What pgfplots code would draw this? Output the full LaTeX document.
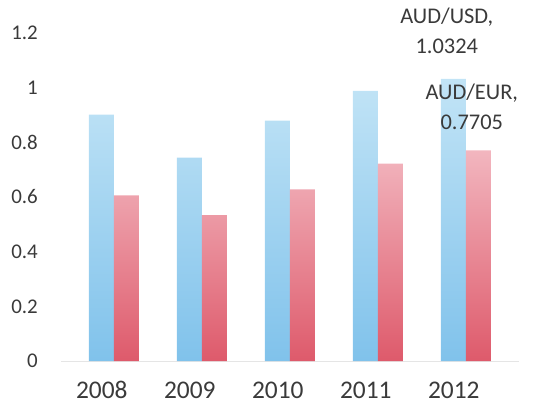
\documentclass[border=0pt]{standalone}
\usepackage{fontspec}
\setmainfont{Carlito}
\usepackage{pgfplots}
\pgfplotsset{compat=1.18}
\definecolor{bluetop}{HTML}{C2E4F6}
\definecolor{bluebot}{HTML}{80C2EB}
\definecolor{redtop}{HTML}{F2B6BF}
\definecolor{redbot}{HTML}{DE5A6B}
\definecolor{txt}{HTML}{3A3A3A}
\begin{document}
\begin{tikzpicture}
\path[use as bounding box] (-61bp,-42bp) rectangle (472bp,361bp);
\begin{axis}[
  at={(0,0)}, anchor=south west,
  scale only axis, width=457.6bp, height=328bp,
  xmin=-0.6, xmax=4.6, ymin=0, ymax=1.2,
  clip=false,
  xtick={0,1,2,3,4},
  xticklabels={2008,2009,2010,2011,2012},
  ytick={0,0.2,0.4,0.6,0.8,1,1.2},
  /pgf/number format/assume math mode=true,
  axis x line*=bottom, axis y line*=left,
  x axis line style={draw=black!10},
  y axis line style={draw=none},
  tick style={draw=none},
  major tick length=0pt,
  xticklabel style={font=\fontsize{25.5}{25.5}\selectfont, text=txt, anchor=base, yshift=-37bp, xshift=-12bp},
  yticklabel style={font=\fontsize{21}{21}\selectfont, text=txt, anchor=east, inner sep=0pt, xshift=-23bp},
]
\addplot[ybar, bar width=25bp, bar shift=-12.5bp, draw=none, top color=bluetop, bottom color=bluebot]
  coordinates {(0,0.901) (1,0.744) (2,0.879) (3,0.988) (4,1.0324)};
\addplot[ybar, bar width=25bp, bar shift=12.5bp, draw=none, top color=redtop, bottom color=redbot]
  coordinates {(0,0.606) (1,0.534) (2,0.628) (3,0.722) (4,0.7705)};
\node[align=center, font=\fontsize{22.5}{30}\selectfont, text=txt] at (axis cs:3.784,1.208) {AUD/USD,\\1.0324};
\node[align=center, font=\fontsize{22.5}{30}\selectfont, text=txt] at (axis cs:4.068,0.929) {AUD/EUR,\\0.7705};
\end{axis}
\end{tikzpicture}
\end{document}
